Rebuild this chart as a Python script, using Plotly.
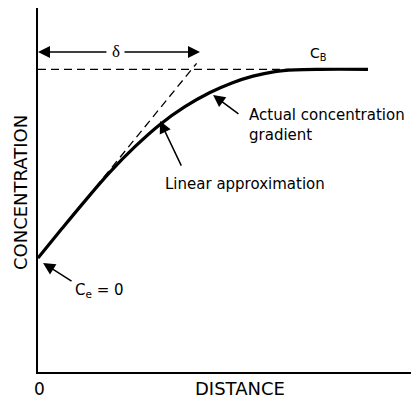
import plotly.graph_objects as go

# Normalized units: distance in units of delta, concentration relative to C_B
distance = [0.0, 0.156, 0.306, 0.468, 0.631, 0.794, 0.956, 1.119, 1.262, 1.399, 1.542, 1.672, 1.835, 2.147]
concentration = [0.0, 0.156, 0.303, 0.455, 0.590, 0.708, 0.802, 0.877, 0.928, 0.964, 0.988, 0.997, 1.0, 1.0]

linear_x = [0.0, 1.032]
linear_y = [0.0, 1.032]

cb_line_x = [0.0, 1.64]
cb_line_y = [1.0, 1.0]

FONT = "DejaVu Sans"

fig = go.Figure()
fig.add_trace(go.Scatter(x=cb_line_x, y=cb_line_y, mode="lines",
                         line=dict(color="black", width=1.3, dash="8px,5px"),
                         hoverinfo="skip"))
fig.add_trace(go.Scatter(x=linear_x, y=linear_y, mode="lines",
                         line=dict(color="black", width=1.3, dash="8px,5px"),
                         hoverinfo="skip"))
fig.add_trace(go.Scatter(x=distance, y=concentration, mode="lines",
                         line=dict(color="black", width=3.2, shape="spline", smoothing=1.0),
                         hoverinfo="skip"))

def arrow(hx, hy, tx, ty):
    fig.add_annotation(x=hx, y=hy, ax=tx, ay=ty, xref="x", yref="y", axref="x", ayref="y",
                       text="", showarrow=True, arrowhead=2, arrowsize=1.6,
                       arrowwidth=1.5, arrowcolor="black")

arrow(0.033, -0.026, 0.228, -0.127)   # Ce = 0
arrow(1.139, 0.864, 1.314, 0.758)     # actual gradient
arrow(0.794, 0.726, 0.937, 0.482)     # linear approximation
arrow(0.0, 1.092, 0.455, 1.092)       # delta left
arrow(1.054, 1.092, 0.553, 1.092)     # delta right

def label(x, y, text, size=15, xanchor="left", yanchor="middle", xref="x", yref="y", family=FONT, angle=0):
    fig.add_annotation(x=x, y=y, xref=xref, yref=yref, text=text, showarrow=False,
                       xanchor=xanchor, yanchor=yanchor, align="left", textangle=angle,
                       font=dict(family=family, size=size, color="black"))

label(1.360, 0.705, "Actual concentration<br>gradient")
label(0.813, 0.392, "Linear approximation")
label(0.226, -0.170, "C<sub>e</sub> = 0", size=15)
label(1.822, 1.081, "C<sub>B</sub>", size=14, xanchor="center")
label(0.507, 1.092, "δ", size=17, xanchor="center", family="Liberation Serif")
label(0.0065, -0.0467, "0", size=17, xanchor="center", yref="paper")
label(1.314, -0.0467, "DISTANCE", size=18, xanchor="center", yref="paper")
label(-0.0469, 0.347, "CONCENTRATION", size=18, xanchor="center", xref="paper", angle=-90)

fig.update_layout(
    width=411, height=399,
    margin=dict(l=38, r=0, t=8, b=27),
    plot_bgcolor="white", paper_bgcolor="white",
    showlegend=False,
)
fig.update_xaxes(range=[0, 2.427], showgrid=False, zeroline=False, showticklabels=False,
                 ticks="", showline=True, linecolor="black", linewidth=1.5)
fig.update_yaxes(range=[-0.604, 1.325], showgrid=False, zeroline=False, showticklabels=False,
                 ticks="", showline=True, linecolor="black", linewidth=1.5)

fig.write_html("out.html")
